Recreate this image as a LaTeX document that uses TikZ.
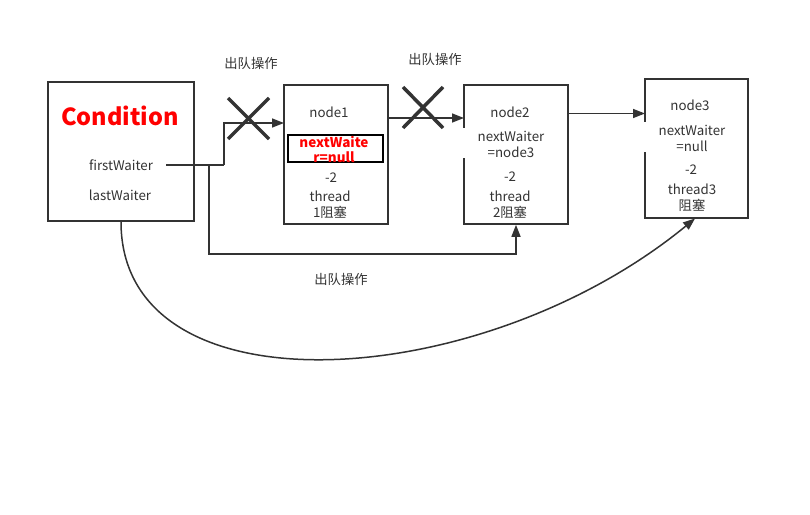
\documentclass[tikz,border=0pt]{standalone}
\usepackage{fontspec}
\setmainfont{Noto Sans CJK SC}
\usetikzlibrary{arrows.meta}
\definecolor{ink}{HTML}{333333}
\tikzset{
  x=1pt,y=-1pt,
  box/.style={draw=ink,line width=1.6pt,minimum width=#1,minimum height=139pt,inner sep=0pt},
  txt/.style={text=ink,font=\fontsize{13.3}{16}\selectfont,inner sep=0pt,align=center},
  redtxt/.style={text=red,font=\bfseries\fontsize{13.5}{15}\selectfont,inner sep=0pt,align=center},
  conn/.style={draw=ink,line width=1.5pt,-{Triangle[length=12pt,width=9pt]}},
  plain/.style={draw=ink,line width=1.5pt},
  cross/.style={draw=ink,line width=3.5pt},
}
\begin{document}
\begin{tikzpicture}
\useasboundingbox[fill=white] (0,0) rectangle (810,514);
% boxes
\node[box=146pt] (cond) at (121,151.5) {};
\node[box=104pt] (n1) at (336,154.5) {};
\node[box=104pt] (n2) at (516,154.5) {};
\node[box=103pt,minimum height=139pt] (n3) at (696.5,148.5) {};
% gaps in left borders
\fill[white] (462,128) rectangle (466,158);
\fill[white] (643,122) rectangle (647,152);
% condition texts
\node[text=red,font=\bfseries\fontsize{23.5}{26}\selectfont,inner sep=0pt] (ctitle) at (120,116) {Condition};
\node[txt] (fw) at (121,165) {firstWaiter};
\node[txt] (lw) at (120,195) {lastWaiter};
% node1
\node[txt] (n1name) at (329,112) {node1};
\node[draw=black,line width=1.6pt,minimum width=95pt,minimum height=27pt,inner sep=0pt] (n1nw) at (335.5,148.5) {};
\node[redtxt] (n1nwt) at (334,149) {nextWaite\\r=null};
\node[txt] (n1m) at (331,178) {-2};
\node[txt] (n1t) at (330,205) {thread\\1阻塞};
% node2
\node[txt] (n2name) at (510,112) {node2};
\node[txt] (n2nw) at (511,144) {nextWaiter\\=node3};
\node[txt] (n2m) at (510,177) {-2};
\node[txt] (n2t) at (510,205) {thread\\2阻塞};
% node3
\node[txt] (n3name) at (690,105) {node3};
\node[txt] (n3nw) at (692,138) {nextWaiter\\=null};
\node[txt] (n3m) at (691,170) {-2};
\node[txt] (n3t) at (692,198) {thread3\\阻塞};
% labels
\node[txt] (l1) at (251,63) {出队操作};
\node[txt] (l2) at (435,59) {出队操作};
\node[txt] (l3) at (341,279) {出队操作};
% connectors
\coordinate (fwend) at (166,165);
\coordinate (j1) at (224,165);
\coordinate (n1in) at (284,123);
\coordinate (b1) at (209,165);
\coordinate (b2) at (209,254);
\draw[plain] (fwend) -- (j1);
\draw[conn] (j1) |- (n1in);
\draw[conn] (b1) -- (b2) -| (n2.south);
\coordinate (n1out) at (388,118);
\coordinate (n2in) at (464,118);
\draw[conn] (n1out) -- (n2in);
\coordinate (n2out) at (568,113.5);
\coordinate (n3in) at (645,113.5);
\draw[conn] (n2out) -- (n3in);
\coordinate (n3bot) at (695,218.5);
\draw[conn] (cond.south) .. controls (121,415) and (480,395) .. (n3bot);
% crosses
\draw[cross] (228,98) -- (269,139) (228,139) -- (269,98);
\draw[cross] (403,87) -- (443,128) (403,128) -- (443,87);
\end{tikzpicture}
\end{document}
